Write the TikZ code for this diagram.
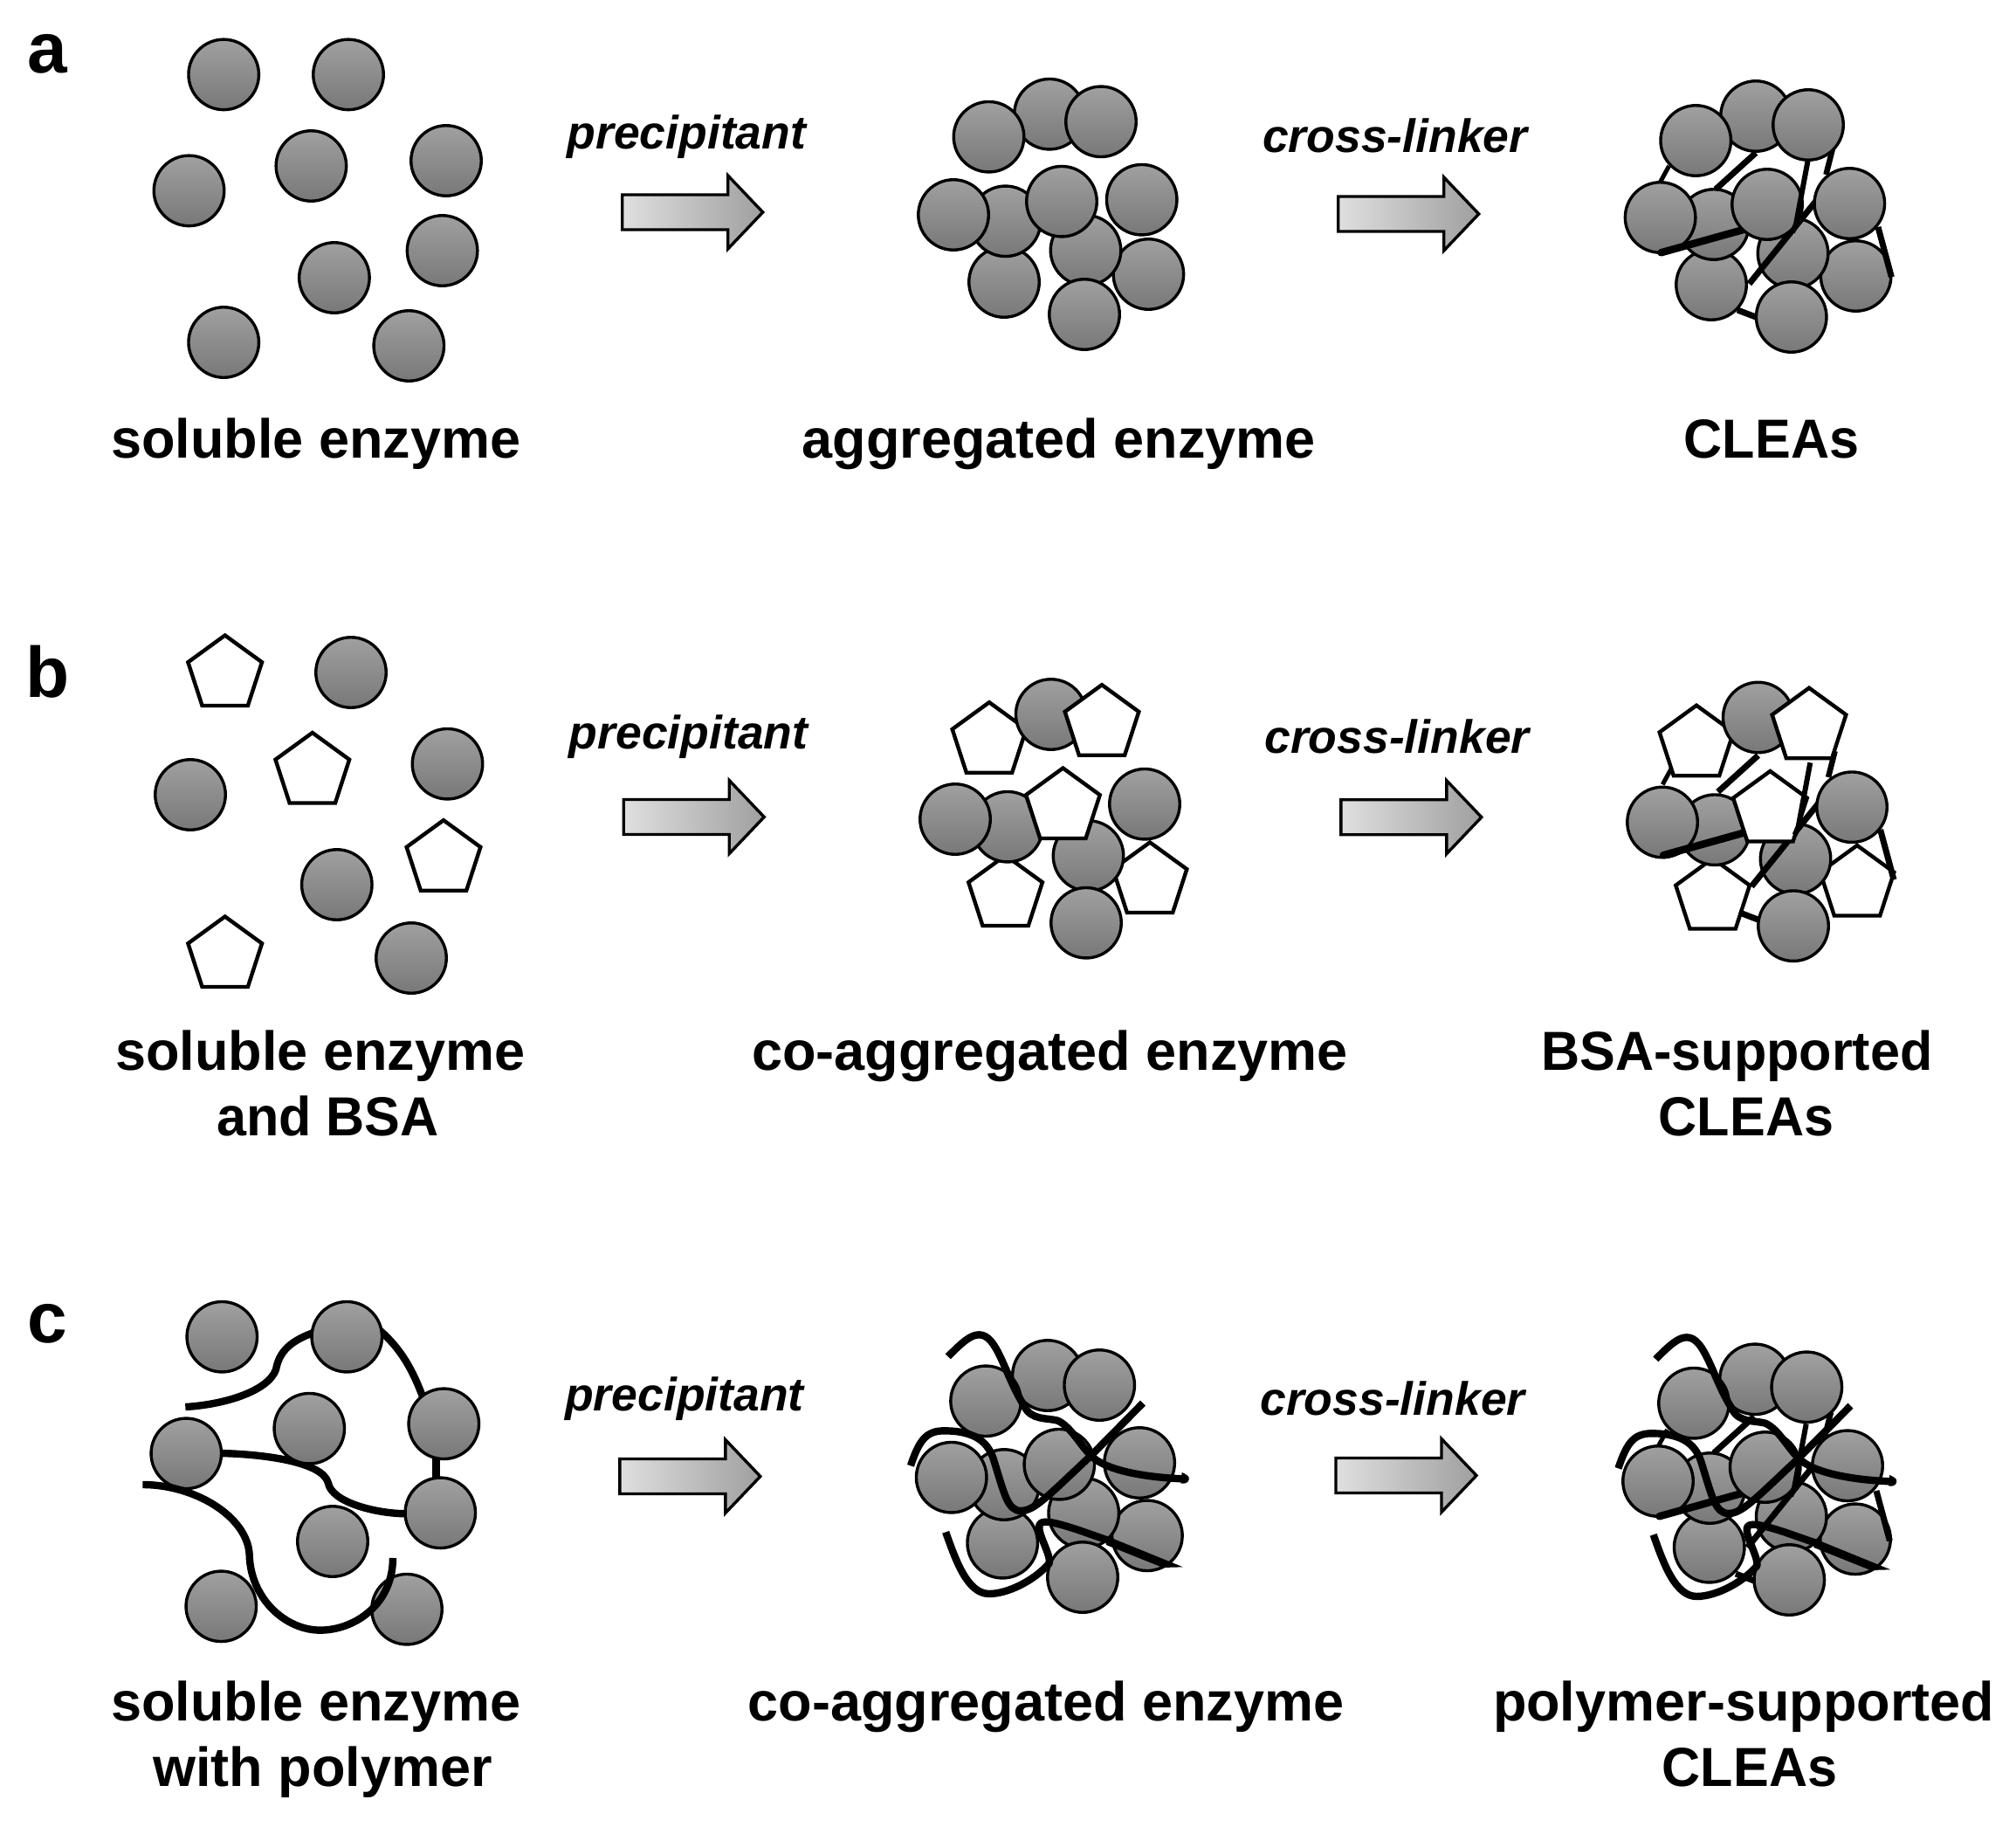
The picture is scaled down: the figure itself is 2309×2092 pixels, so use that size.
\documentclass[tikz,border=0pt]{standalone}
\usepackage{fontspec}
\setmainfont{Liberation Sans}
\usetikzlibrary{shapes.geometric}
\definecolor{enzA}{HTML}{A0A0A0}
\definecolor{enzB}{HTML}{787878}
\tikzset{
  enzyme/.style={circle,draw=black,line width=3.4pt,minimum size=80.5pt,inner sep=0pt,top color=enzA,bottom color=enzB},
  bsa/.style={regular polygon,regular polygon sides=5,draw=black,fill=white,line width=4.4pt,minimum size=89pt,inner sep=0pt},
  blocklabel/.style={anchor=base,inner sep=0pt,font=\bfseries\fontsize{63}{63}\selectfont},
  caplabel/.style={blocklabel,xscale=0.97},
  agentlabel/.style={anchor=base,inner sep=0pt,font=\bfseries\itshape\fontsize{53.5}{53.5}\selectfont},
  panellabel/.style={anchor=base,inner sep=0pt,font=\bfseries\fontsize{82}{82}\selectfont},
  xl/.style={line width=#1,draw=black,line cap=butt},
  polymer/.style={line width=8.4pt,draw=black,line cap=butt,line join=round},
}
\newcommand{\enz}[3]{\node[enzyme] (#1) at (#2,#3) {};}
\newcommand{\pent}[3]{\node[bsa] (#1) at (#2,#3) {};}
% block arrow: start x, centre y
\newcommand{\blockarrow}[2]{%
  \begin{scope}[shift={(#1,#2)}]
  \shade[left color=gray!25,right color=gray!75,draw=black,line width=3.4pt,line join=miter]
    (0,-20) -- (121,-20) -- (121,-42) -- (161,0) -- (121,42) -- (121,20) -- (0,20) -- cycle;
  \end{scope}}
% cross-links in the coordinates of panel a
\newcommand{\xlunder}{%
  \draw[xl=5pt] (1911.6,190) -- (1901.6,208.3);
  \draw[xl=7pt] (2011,175) -- (1965,216.7);
  \draw[xl=7pt] (2080,230) -- (2003.4,325);
  \draw[xl=6.5pt] (2099,170) -- (2091.4,200);
  \draw[xl=7pt] (1990,355) -- (2011,363);
  \draw[xl=8.5pt,line cap=round] (1902.4,289.3) -- (1995.7,263.3);
}
\newcommand{\xlover}{%
  \draw[xl=6pt] (2070.7,183.3) -- (2057,256.7) -- (2053,266);
  \draw[xl=7pt] (2151,260) -- (2166.4,317.3);
}
% polymer chains, in zoom coordinates of panel c
\newcommand{\polymerset}{%
  \begin{scope}[shift={(1020,1510)},xscale=0.3827,yscale=0.3333]
  \draw[polymer] (172,130) .. controls (215,80) and (240,55) .. (265,55)
     .. controls (320,55) and (340,190) .. (400,300)
     .. controls (420,350) and (470,340) .. (500,350)
     .. controls (540,370) and (570,440) .. (600,470)
     .. controls (640,520) and (760,545) .. (875,550);
  \fill (872,528) .. controls (885,535) and (895,540) .. (893,552) .. controls (890,565) and (880,568) .. (868,565) -- cycle;
  \draw[polymer] (60,505) .. controls (85,420) and (105,385) .. (160,385)
     .. controls (260,385) and (295,430) .. (310,490)
     .. controls (340,600) and (350,660) .. (390,660)
     .. controls (430,660) and (470,610) .. (600,470) -- (755,290);
  \draw[polymer] (165,733) .. controls (195,830) and (230,945) .. (295,945)
     .. controls (350,945) and (430,900) .. (475,840)
     .. controls (480,810) and (440,740) .. (445,710)
     .. controls (450,690) and (480,695) .. (560,725) -- (660,765);
  \fill (650,748) -- (875,853) -- (815,855) -- (645,777) -- cycle;
  \end{scope}}
\begin{document}
\begin{tikzpicture}[x=1pt,y=-1pt]
\useasboundingbox (0,0) rectangle (2309,2092);
\fill[white] (0,0) rectangle (2309,2092);

% ---------- panel a ----------
\node[panellabel] (la) at (54.5,84) {a};
\enz{a1}{256.2}{85.4}\enz{a2}{399}{85.4}\enz{a3}{216.5}{218.4}\enz{a4}{356.4}{190}\enz{a5}{511}{184}
\enz{a6}{506.6}{287}\enz{a7}{382.9}{318}\enz{a8}{256.2}{392}\enz{a9}{468.3}{396}
\blockarrow{712.7}{243}
\node[agentlabel] (apre) at (786.4,170.5) {precipitant};
\enz{am2}{1202}{130.7}\enz{am1}{1132.5}{156.7}\enz{am3}{1261}{139.3}
\enz{am8}{1150}{323}\enz{am10}{1315.4}{314}\enz{am9}{1243.5}{286.7}
\enz{am5}{1151.6}{253.3}\enz{am4}{1092}{246}\enz{am6}{1216}{230.7}\enz{am7}{1307.7}{228.7}\enz{am11}{1242}{360}
\blockarrow{1532.7}{245}
\node[agentlabel] (axl) at (1597.8,175) {cross-linker};
% CLEAs
\enz{ar8}{1960}{326}\enz{ar10}{2125.6}{316}\enz{ar9}{2053.5}{290}
\enz{ar5}{1962.8}{257}\enz{ar4}{1901.6}{249}
\xlunder
\enz{ar6}{2024}{234}\enz{ar7}{2118.3}{233}\enz{ar11}{2051.7}{363}
\enz{ar2}{2011}{133}\enz{ar1}{1942.2}{161}\enz{ar3}{2071}{143}
\xlover
\node[blocklabel] (ta1) at (362,524) {soluble enzyme};
\node[blocklabel] (ta2) at (1212.7,524) {aggregated enzyme};
\node[caplabel] (ta3) at (2029,524) {CLEAs};

% ---------- panel b ----------
\node[panellabel] (lb) at (54.5,798) {b};
\pent{b1}{257.7}{772}\enz{b2}{402}{770}\enz{b3}{218}{910}\pent{b4}{357.8}{883.5}\enz{b5}{512.5}{874.7}
\pent{b6}{508}{983.7}\enz{b7}{385.8}{1013}\pent{b8}{257.7}{1094}\enz{b9}{471}{1097}
\blockarrow{714.2}{935.5}
\node[agentlabel] (bpre) at (788.6,857.5) {precipitant};
\pent{bm8}{1151.6}{1024}\pent{bm10}{1317}{1009}\pent{bm1}{1133}{848.7}\enz{bm2}{1203.7}{818}\pent{bm3}{1262}{828.7}
\enz{bm9}{1246.5}{980}\enz{bm5}{1154}{946.7}\enz{bm4}{1094}{938}\pent{bm6}{1217.4}{924}\enz{bm7}{1311}{920.7}\enz{bm11}{1244}{1056.7}
\blockarrow{1535.8}{935.7}
\node[agentlabel] (bxl) at (1600,862) {cross-linker};
\pent{br8}{1961.6}{1027.5}\pent{br10}{2127}{1012.5}\enz{br9}{2056.5}{983.5}
\enz{br5}{1964}{950.2}\enz{br4}{1904}{941.5}
\begin{scope}[shift={(2.6,690)}]\xlunder\end{scope}
\pent{br6}{2027.4}{927.5}\enz{br7}{2121}{924.2}\enz{br11}{2054}{1060.2}
\pent{br1}{1943}{852.2}\enz{br2}{2013.7}{821.5}\pent{br3}{2072}{832.2}
\begin{scope}[shift={(2.6,690)}]\xlover\end{scope}
\node[blocklabel] (tb1) at (366.7,1225) {soluble enzyme};
\node[caplabel] (tb2) at (375.5,1300) {and BSA};
\node[blocklabel] (tb3) at (1202.4,1225) {co-aggregated enzyme};
\node[caplabel] (tb4) at (1989.5,1225) {BSA-supported};
\node[caplabel] (tb5) at (2000,1300) {CLEAs};

% ---------- panel c ----------
\node[panellabel] (lc) at (54.5,1537.5) {c};
\begin{scope}[shift={(140,1470)},scale=0.3333]
\draw[polymer] (217,423) .. controls (350,415) and (500,370) .. (528,295)
   .. controls (540,230) and (580,195) .. (665,165);
\draw[polymer] (885,160) .. controls (960,225) and (1000,300) .. (1035,395);
\draw[polymer] (1078,595) -- (1078,675);
\draw[polymer] (335,582) .. controls (480,585) and (690,610) .. (708,685)
   .. controls (720,750) and (870,790) .. (980,790);
\end{scope}
\enz{c1}{254.3}{1530.7}\enz{c2}{397.3}{1530.7}\enz{c3}{213.3}{1664.3}\enz{c4}{354.3}{1635.7}\enz{c5}{508.3}{1630.3}
\enz{c6}{504.3}{1732.3}\enz{c7}{381}{1765}\enz{c8}{253.3}{1839.3}\enz{c9}{466}{1842.7}
\begin{scope}[shift={(140,1470)},scale=0.3333]
\draw[polymer] (70,690) .. controls (250,690) and (430,800) .. (437,930)
   .. controls (440,1080) and (560,1190) .. (680,1190)
   .. controls (800,1190) and (930,1100) .. (930,942);
\end{scope}
\blockarrow{709.8}{1690.5}
\node[agentlabel] (cpre) at (784,1615.5) {precipitant};
% co-aggregate
\enz{cm2}{1199.9}{1575}\enz{cm1}{1129.1}{1604.3}\enz{cm3}{1259.2}{1586}
\enz{cm8}{1148.2}{1766.7}\enz{cm10}{1313.9}{1758.3}\enz{cm9}{1241.2}{1732.7}
\enz{cm5}{1150.1}{1700}\enz{cm4}{1089.7}{1691.7}\enz{cm6}{1213.3}{1676.7}\enz{cm7}{1305.1}{1675}\enz{cm11}{1240}{1806}
\polymerset
\blockarrow{1530}{1689.5}
\node[agentlabel] (cxl) at (1595,1620) {cross-linker};
% polymer-supported CLEAs
\enz{cr8}{1957.7}{1771.7}\enz{cr10}{2125}{1762.3}\enz{cr9}{2051.7}{1736.7}
\enz{cr5}{1958.3}{1704}\enz{cr4}{1899}{1696}
\begin{scope}[shift={(-2,1447)}]\xlunder\end{scope}
\enz{cr6}{2021.7}{1680}\enz{cr7}{2116}{1678.3}\enz{cr11}{2049.3}{1809}
\enz{cr2}{2010}{1579.3}\enz{cr1}{1940}{1606.7}\enz{cr3}{2069.3}{1588.3}
\begin{scope}[shift={(-2,1447)}]\xlover\end{scope}
\begin{scope}[shift={(810.5,3)}]\polymerset\end{scope}
\node[blocklabel] (tc1) at (362,1970) {soluble enzyme};
\node[blocklabel] (tc2) at (369.6,2045.5) {with polymer};
\node[blocklabel] (tc3) at (1198,1970) {co-aggregated enzyme};
\node[blocklabel] (tc4) at (1997,1970) {polymer-supported};
\node[caplabel] (tc5) at (2004,2045.5) {CLEAs};
\end{tikzpicture}
\end{document}
